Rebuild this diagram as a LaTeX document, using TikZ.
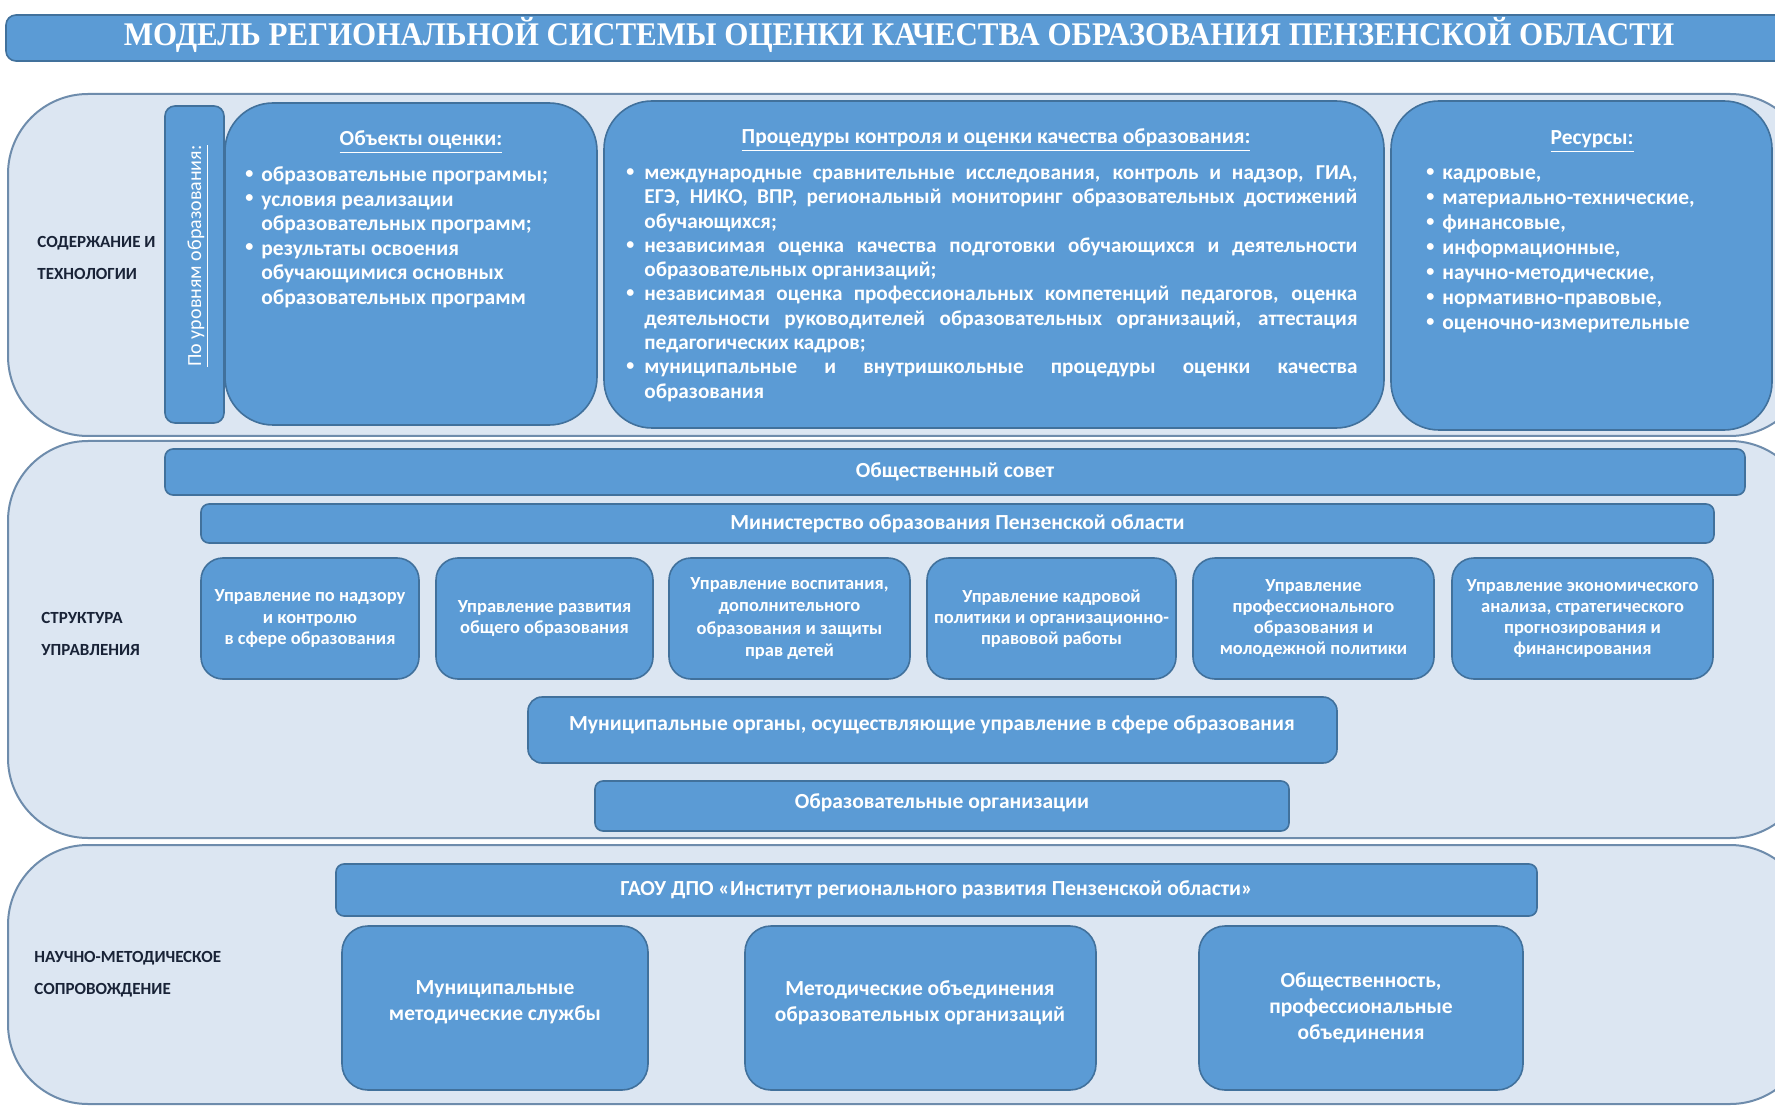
\documentclass[tikz,border=0pt]{standalone}
\usepackage{fontspec}
\usepackage{graphicx}
\setmainfont{Carlito}
\newfontfamily\tnr{Liberation Serif}[FakeStretch=0.94]
\usetikzlibrary{fit}
\definecolor{boxblue}{RGB}{91,155,213}
\definecolor{boxedge}{RGB}{65,113,156}
\definecolor{panelfill}{RGB}{220,230,242}
\definecolor{paneledge}{RGB}{110,140,172}
\definecolor{labelcol}{RGB}{25,35,55}
\newcommand\bulA{\makebox[8pt][l]{\raisebox{0.3ex}{\scalebox{0.75}{\textbullet}}}}
\newcommand\bulB{\makebox[9pt][l]{\raisebox{0.3ex}{\scalebox{0.75}{\textbullet}}}}
\newlength\pw \setlength\pw{356.5pt}
\newcommand\jl[1]{\makebox[\pw][s]{#1}}
\begin{document}
\begin{tikzpicture}[x=0.5pt,y=-0.5pt,
  panel/.style={draw=paneledge, fill=panelfill, line width=1pt, rounded corners=40pt, inner sep=0pt},
  box/.style={draw=boxedge, fill=boxblue, line width=0.8pt, inner sep=0pt},
  bigbox/.style={box, rounded corners=24pt},
  midbox/.style={box, rounded corners=11pt},
  bar/.style={box, rounded corners=4pt},
  wt/.style={text=white, inner sep=0pt},
  head/.style={wt, anchor=base, font=\bfseries\fontsize{10.75}{12}\selectfont},
  listA/.style={wt, anchor=north west, align=left, font=\bfseries\fontsize{10.75}{12.25}\selectfont},
  small/.style={wt, align=center, font=\bfseries\fontsize{9.25}{10.6}\selectfont},
  barText/.style={wt, font=\bfseries\fontsize{10.75}{12}\selectfont},
  botText/.style={wt, align=center, font=\bfseries\fontsize{10.75}{13}\selectfont},
  side/.style={text=labelcol, anchor=north west, align=left, inner sep=0pt, font=\bfseries\fontsize{8.5}{16}\selectfont}
]
\useasboundingbox (0,0) rectangle (1775,1106);
\clip (0,0) rectangle (1775,1106);
\fill[white] (0,0) rectangle (1775,1106);

% title
\node[box, rounded corners=5pt, fit={(6,15)(1790,61)}] (title) {};
\node[wt, anchor=base, font=\tnr\bfseries\fontsize{16.5}{18}\selectfont] (titletext) at (899,46) {МОДЕЛЬ РЕГИОНАЛЬНОЙ СИСТЕМЫ ОЦЕНКИ КАЧЕСТВА ОБРАЗОВАНИЯ ПЕНЗЕНСКОЙ ОБЛАСТИ};

% panels
\node[panel, fit={(8,94)(1810,436)}] (p1) {};
\node[panel, fit={(8,441)(1810,838)}] (p2) {};
\node[panel, fit={(8,845)(1810,1104)}] (p3) {};

% side labels
\node[side] (l1) at (37,225) {\strut СОДЕРЖАНИЕ И\\ТЕХНОЛОГИИ};
\node[side] (l2) at (41,601) {\strut СТРУКТУРА\\УПРАВЛЕНИЯ};
\node[side] (l3) at (34,940) {\strut НАУЧНО-МЕТОДИЧЕСКОЕ\\СОПРОВОЖДЕНИЕ};

% panel 1
\node[box, rounded corners=5pt, fit={(165,106)(224,423)}] (levels) {};
\node[wt, rotate=90, font=\fontsize{10}{12}\selectfont] (levelstext) at (198,256) {\underline{По уровням образования:}};

\node[bigbox, fit={(225,103)(597,425)}] (obj) {};
\node[head] (objh) at (421,146) {\underline{Объекты оценки:}};
\node[listA] (objl) at (245,164) {\strut\bulA образовательные программы;\\
\bulA условия реализации\\
\hspace*{8pt}образовательных программ;\\
\bulA результаты освоения\\
\hspace*{8pt}обучающимися основных\\
\hspace*{8pt}образовательных программ};

\node[bigbox, fit={(604,101)(1384,428)}] (proc) {};
\node[head] (proch) at (996,144) {\underline{Процедуры контроля и оценки качества образования:}};
\node[listA, font=\bfseries\fontsize{10.6}{12.15}\selectfont] (procl) at (626,162) {\strut\bulB\jl{международные сравнительные исследования, контроль и надзор, ГИА,}\\
\hspace*{9pt}\jl{ЕГЭ, НИКО, ВПР, региональный мониторинг образовательных достижений}\\
\hspace*{9pt}обучающихся;\\
\bulB\jl{независимая оценка качества подготовки обучающихся и деятельности}\\
\hspace*{9pt}образовательных организаций;\\
\bulB\jl{независимая оценка профессиональных компетенций педагогов, оценка}\\
\hspace*{9pt}\jl{деятельности руководителей образовательных организаций, аттестация}\\
\hspace*{9pt}педагогических кадров;\\
\bulB\jl{муниципальные и внутришкольные процедуры оценки качества}\\
\hspace*{9pt}образования};

\node[bigbox, fit={(1391,101)(1772,430)}] (res) {};
\node[head] (resh) at (1592,145) {\underline{Ресурсы:}};
\node[listA, font=\bfseries\fontsize{10.75}{12.45}\selectfont] (resl) at (1426,162) {\strut\bulA кадровые,\\
\bulA материально-технические,\\
\bulA финансовые,\\
\bulA информационные,\\
\bulA научно-методические,\\
\bulA нормативно-правовые,\\
\bulA оценочно-измерительные};

% panel 2
\node[bar, fit={(165,449)(1745,495)}] (council) {};
\node[barText] at (council) {Общественный совет};
\node[bar, fit={(201,504)(1714,543)}] (min) {};
\node[barText] at (min) {Министерство образования Пензенской области};

\node[midbox, fit={(201,558)(419,679)}] (u1) {};
\node[small] at (u1) {Управление по надзору\\и контролю\\в сфере образования};
\node[midbox, fit={(436,558)(653,679)}] (u2) {};
\node[small] at (u2) {Управление развития\\общего образования};
\node[midbox, fit={(669,558)(910,679)}] (u3) {};
\node[small, font=\bfseries\fontsize{9.25}{11.2}\selectfont] at (u3) {Управление воспитания,\\дополнительного\\образования и защиты\\прав детей};
\node[midbox, fit={(927,558)(1176,679)}] (u4) {};
\node[small] at (u4) {Управление кадровой\\политики и организационно-\\правовой работы};
\node[midbox, fit={(1193,558)(1434,679)}] (u5) {};
\node[small] at (u5) {Управление\\профессионального\\образования и\\молодежной политики};
\node[midbox, fit={(1452,558)(1713,679)}] (u6) {};
\node[small] at (u6) {Управление экономического\\анализа, стратегического\\прогнозирования и\\финансирования};

\node[box, rounded corners=7pt, fit={(528,697)(1337,763)}] (mun) {};
\node[barText] at (932,725) {Муниципальные органы, осуществляющие управление в сфере образования};
\node[bar, fit={(595,781)(1289,831)}] (org) {};
\node[barText] at (942,803) {Образовательные организации};

% panel 3
\node[bar, fit={(336,864)(1537,916)}] (inst) {};
\node[barText] at (inst) {ГАОУ ДПО «Институт регионального развития Пензенской области»};
\node[box, rounded corners=13pt, fit={(342,926)(648,1090)}] (b1) {};
\node[botText] at (495,1002) {Муниципальные\\методические службы};
\node[box, rounded corners=13pt, fit={(745,926)(1096,1090)}] (b2) {};
\node[botText] at (920,1003) {Методические объединения\\образовательных организаций};
\node[box, rounded corners=13pt, fit={(1199,926)(1523,1090)}] (b3) {};
\node[botText] at (1361,1008) {Общественность,\\профессиональные\\объединения};
\end{tikzpicture}
\end{document}
